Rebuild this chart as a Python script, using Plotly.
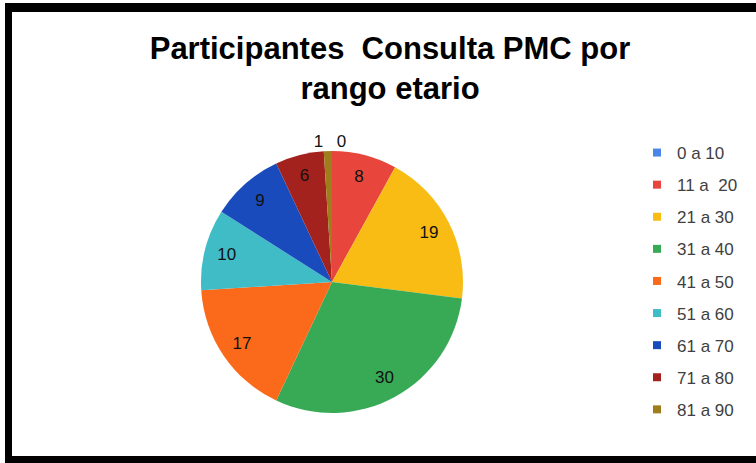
import plotly.graph_objects as go

categories = ["0 a 10", "11 a  20", "21 a 30", "31 a 40", "41 a 50",
              "51 a 60", "61 a 70", "71 a 80", "81 a 90"]
values = [0, 8, 19, 30, 17, 10, 9, 6, 1]
colors = ["#4a86e8", "#e8463c", "#f8bc14", "#38aa56", "#fa6a1a",
          "#40bcc7", "#1a4bbd", "#a3221d", "#a07d1c"]
text_positions = ["outside", "inside", "inside", "inside", "inside",
                  "inside", "inside", "inside", "outside"]
title_text = "Participantes\u00a0 Consulta PMC por<br>rango etario"

W, H = 756, 463
cx, cy, r = 332, 282, 131
domain = dict(x=[(cx - r) / W, (cx + r) / W],
              y=[(H - cy - r) / H, (H - cy + r) / H])
label_font = dict(family="Liberation Sans, Arial", size=17, color="#111111")

fig = go.Figure()
# coloured slices
fig.add_trace(go.Pie(
    labels=categories, values=values, sort=False, direction="clockwise",
    rotation=0, marker=dict(colors=colors, line=dict(width=0)),
    textinfo="none", showlegend=False, hoverinfo="label+value",
    domain=domain,
))
# value labels placed towards the outer edge (transparent ring on top)
fig.add_trace(go.Pie(
    labels=categories, values=values, sort=False, direction="clockwise",
    rotation=0, hole=0.66,
    marker=dict(colors=["rgba(0,0,0,0)"] * len(values), line=dict(width=0)),
    textinfo="value", textposition=text_positions,
    insidetextorientation="horizontal", textfont=label_font,
    showlegend=False, hoverinfo="skip", domain=domain,
))
for cat, col in zip(categories, colors):
    fig.add_trace(go.Scatter(
        x=[None], y=[None], mode="markers", name=cat, legendgroup=cat,
        marker=dict(symbol="square", size=8, color=col),
    ))

fig.update_layout(
    width=W, height=H, margin=dict(l=0, r=0, t=0, b=0),
    paper_bgcolor="white", plot_bgcolor="rgba(0,0,0,0)",
    xaxis=dict(visible=False), yaxis=dict(visible=False),
    title=dict(text=title_text, x=390 / W, xanchor="center",
               y=1 - 59 / H, yanchor="top",
               font=dict(family="Liberation Sans, Arial", size=31, color="#000000",
                         weight="bold")),
    legend=dict(x=637 / W, xanchor="left", y=1 - 135 / H, yanchor="top",
                font=dict(family="Liberation Sans, Arial", size=17, color="#404040"),
                tracegroupgap=7, itemwidth=30, bgcolor="rgba(0,0,0,0)"),
    shapes=[
        dict(type="rect", xref="paper", yref="paper", layer="below",
             x0=5 / W, x1=1.02, y0=-0.02, y1=1 - 3 / H,
             fillcolor="black", line=dict(width=0)),
        dict(type="rect", xref="paper", yref="paper", layer="below",
             x0=12 / W, x1=1.02, y0=1 - 456 / H, y1=1 - 12 / H,
             fillcolor="white", line=dict(width=0)),
    ],
)
fig.write_html("out.html", config={"displayModeBar": False},
               post_script="document.body.style.margin='0';")
